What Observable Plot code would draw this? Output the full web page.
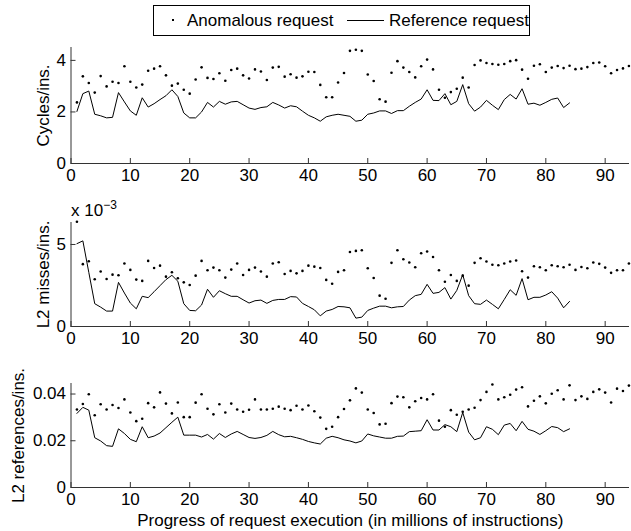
<!DOCTYPE html>
<html><head><meta charset="utf-8">
<script src="https://cdn.jsdelivr.net/npm/d3@7"></script>
<script src="https://cdn.jsdelivr.net/npm/@observablehq/plot@0.6"></script>
<style>
html,body{margin:0;padding:0;background:#fff;}
#fig{position:relative;width:631px;height:531px;overflow:hidden;font-family:"Liberation Sans",Arial,Helvetica,sans-serif;color:#000;}
.panel{position:absolute;left:0;}
#legend{position:absolute;left:153px;top:5px;width:377px;height:31px;border:1px solid #000;box-sizing:border-box;font-size:17px;background:#fff;}
#legend span{position:absolute;top:0;line-height:29px;white-space:nowrap;}
#exp{position:absolute;left:71px;top:202px;font-size:17px;line-height:17px;white-space:nowrap;z-index:5;}
</style></head>
<body><div id="fig">
<div id="legend">
  <div style="position:absolute;left:18px;top:13px;width:2px;height:2px;background:#000;"></div>
  <span style="left:33px;">Anomalous request</span>
  <div style="position:absolute;left:193px;top:14px;width:37px;height:1px;background:#000;"></div>
  <span style="left:235px;">Reference request</span>
</div>
<div id="exp">x 10<span style="position:relative;top:-7px;font-size:12px;">−3</span></div>
</div>
<script>
// x positions: millions of instructions (first sample at 1)
const anomStart = 1;
const refStart = 1;
const xTicks = [0, 10, 20, 30, 40, 50, 60, 70, 80, 90];
const xTickLabels = ["0", "10", "20", "30", "40", "50", "60", "70", "80", "90"];

// Panel 1: Cycles/ins.
const cyclesAnom = [2.37,3.38,3.12,2.75,3.39,2.99,3.17,3.12,3.77,3.17,
  2.95,3.06,3.60,3.68,3.77,3.42,3.02,3.10,2.86,2.71,
  3.26,3.73,3.32,3.28,3.50,3.21,3.63,3.68,3.42,3.30,
  3.65,3.57,3.24,3.72,3.75,3.37,3.46,3.33,3.38,3.56,
  3.55,3.05,2.57,2.57,3.14,3.51,4.37,4.41,4.37,3.45,
  3.20,2.49,2.40,3.52,3.97,3.72,3.55,3.34,3.77,4.03,
  3.65,2.86,2.55,2.77,2.90,3.33,2.95,3.82,4.00,3.90,
  3.86,3.83,3.86,3.97,4.01,3.64,3.29,3.79,3.85,3.55,
  3.72,3.78,3.70,3.79,3.66,3.68,3.74,3.90,3.92,3.77,
  3.50,3.63,3.69,3.78];
const cyclesRef = [2.02,2.71,2.81,1.91,1.85,1.77,1.79,2.75,2.39,2.04,
  1.87,2.55,2.19,2.32,2.48,2.63,2.86,2.60,1.96,1.77,
  1.77,2.00,2.37,2.19,2.41,2.30,2.39,2.41,2.28,2.15,
  2.10,2.17,2.20,2.37,2.27,2.15,2.24,2.20,2.03,1.87,
  1.77,1.64,1.81,1.87,1.91,1.87,1.83,1.64,1.68,1.91,
  1.96,2.04,2.04,1.94,2.05,2.05,2.22,2.37,2.50,2.86,
  2.45,2.44,2.71,2.28,2.41,3.06,2.32,2.03,2.19,2.45,
  2.26,2.09,2.48,2.68,2.50,2.90,2.30,2.34,2.26,2.37,
  2.49,2.54,2.17,2.35];
const cyclesTicks = [0, 2, 4];
const cyclesTickLabels = ["0", "2", "4"];

// Panel 2: L2 misses/ins. (in units of 10^-3)
const missAnom = [6.39,3.80,3.98,2.88,3.35,2.90,3.16,3.12,3.84,3.45,
  2.86,2.78,4.00,3.57,3.71,3.04,3.31,2.94,2.69,2.53,
  3.10,4.00,3.43,3.59,3.43,2.98,3.47,3.84,3.14,3.45,
  3.59,3.35,3.04,3.84,3.92,3.20,3.39,3.24,3.39,3.71,
  3.65,3.57,2.84,2.61,3.33,3.43,4.54,4.61,4.65,3.55,
  2.96,1.88,1.69,3.88,4.65,4.10,3.90,3.61,4.47,4.57,
  4.24,3.43,2.73,3.14,2.78,3.10,2.49,3.88,4.16,3.96,
  3.76,3.73,3.84,3.96,4.02,3.37,2.98,3.67,3.61,3.43,
  3.73,3.67,3.61,3.76,3.45,3.63,3.55,3.90,3.82,3.59,
  3.27,3.43,3.43,3.84];
const missRef = [5.05,5.22,3.30,1.39,1.18,0.94,0.94,2.69,2.04,1.43,
  1.08,1.84,1.76,2.12,2.49,2.86,3.12,2.76,1.39,0.98,
  0.96,1.31,2.27,1.78,2.18,2.00,1.84,1.84,1.63,1.43,
  1.57,1.61,1.41,1.59,1.65,1.65,1.82,1.80,1.41,1.22,
  1.02,0.65,0.94,1.04,1.22,1.20,1.14,0.51,0.57,0.98,
  1.12,1.24,1.24,1.14,1.20,1.22,1.61,1.88,1.96,2.57,
  2.02,2.08,2.37,1.67,2.20,3.16,1.88,1.39,1.35,1.61,
  1.35,1.08,1.65,2.24,1.90,2.92,1.63,1.78,1.78,1.92,
  2.12,1.73,1.14,1.53];
const missTicks = [0, 5];
const missTickLabels = ["0", "5"];

// Panel 3: L2 references/ins.
const refsAnom = [0.0334,0.0357,0.0399,0.0309,0.0356,0.0334,0.0353,0.0340,0.0377,0.0321,
  0.0284,0.0294,0.0361,0.0343,0.0407,0.0359,0.0317,0.0364,0.0301,0.0301,
  0.0363,0.0399,0.0337,0.0313,0.0356,0.0321,0.0359,0.0334,0.0324,0.0333,
  0.0377,0.0334,0.0334,0.0337,0.0346,0.0337,0.0331,0.0350,0.0334,0.0351,
  0.0326,0.0299,0.0251,0.0260,0.0301,0.0336,0.0373,0.0424,0.0406,0.0334,
  0.0319,0.0270,0.0273,0.0361,0.0389,0.0386,0.0343,0.0369,0.0383,0.0377,
  0.0399,0.0286,0.0260,0.0331,0.0311,0.0324,0.0334,0.0341,0.0374,0.0409,
  0.0441,0.0377,0.0386,0.0397,0.0419,0.0429,0.0347,0.0371,0.0390,0.0360,
  0.0401,0.0416,0.0377,0.0437,0.0374,0.0390,0.0379,0.0409,0.0420,0.0406,
  0.0364,0.0423,0.0413,0.0436];
const refsRef = [0.0317,0.0343,0.0331,0.0213,0.0199,0.0179,0.0176,0.0251,0.0231,0.0206,
  0.0196,0.0260,0.0213,0.0220,0.0233,0.0256,0.0279,0.0301,0.0224,0.0224,
  0.0224,0.0216,0.0227,0.0207,0.0231,0.0214,0.0229,0.0240,0.0227,0.0214,
  0.0210,0.0214,0.0223,0.0240,0.0226,0.0217,0.0219,0.0213,0.0206,0.0197,
  0.0191,0.0186,0.0211,0.0219,0.0213,0.0204,0.0199,0.0191,0.0199,0.0229,
  0.0221,0.0216,0.0211,0.0211,0.0219,0.0220,0.0239,0.0241,0.0243,0.0290,
  0.0246,0.0246,0.0269,0.0260,0.0239,0.0321,0.0237,0.0204,0.0213,0.0260,
  0.0249,0.0226,0.0267,0.0274,0.0243,0.0283,0.0249,0.0241,0.0227,0.0243,
  0.0261,0.0256,0.0239,0.0251];
const refsTicks = [0, 0.02, 0.04];
const refsTickLabels = ["0", "0.02", "0.04"];

const xLabel = "Progress of request execution (in millions of instructions)";
const fontFamily = '"Liberation Sans", Arial, Helvetica, sans-serif';
const axisColor = "#333";

function panel(o) {
  const A = o.anom.map((v, i) => ({x: i + anomStart, v}));
  const R = o.ref.map((v, i) => ({x: i + refStart, v}));
  const marks = [
    Plot.ruleX([0], {stroke: axisColor}),
    Plot.ruleY([0], {stroke: axisColor}),
    Plot.axisX(xTicks, {tickSize: -5, tickPadding: 10, stroke: axisColor, label: null,
      tickFormat: d => xTickLabels[xTicks.indexOf(d)]}),
    Plot.axisY(o.yTicks, {tickSize: -5, tickPadding: 10, stroke: axisColor, label: null,
      tickFormat: d => o.yTickLabels[o.yTicks.indexOf(d)]}),
    Plot.line(R, {x: "x", y: "v", stroke: "#000", strokeWidth: 1}),
    Plot.dot(A, {x: "x", y: "v", r: 1.3, fill: "#000", stroke: null}),
    Plot.text([o.yLabel], {frameAnchor: "left", rotate: -90, dx: o.yLabelDx, textAnchor: "middle",
      lineAnchor: "middle", text: d => d, fill: "#000"})
  ];
  if (o.xLabel) marks.push(Plot.text([o.xLabel], {frameAnchor: "bottom", dy: 33, lineAnchor: "middle",
    textAnchor: "middle", text: d => d, fill: "#000"}));
  const chart = Plot.plot({
    width: 631,
    height: o.marginTop + o.plotHeight + o.marginBottom,
    marginLeft: 70.5, marginRight: 2, marginTop: o.marginTop, marginBottom: o.marginBottom,
    style: {fontFamily, fontSize: "17px", background: "transparent", overflow: "visible", color: "#000"},
    x: {domain: [0, 94.1], label: null},
    y: {domain: o.yDomain, label: null},
    marks
  });
  chart.classList.add("panel");
  chart.style.position = "absolute";
  chart.style.left = "0px";
  chart.style.top = o.top + "px";
  document.getElementById("fig").appendChild(chart);
}

panel({anom: cyclesAnom, ref: cyclesRef, yDomain: [0, 4.5], yTicks: cyclesTicks, yTickLabels: cyclesTickLabels,
  yLabel: "Cycles/ins.", yLabelDx: -27.5, top: 40, marginTop: 7, plotHeight: 116, marginBottom: 30});
panel({anom: missAnom, ref: missRef, yDomain: [0, 6.34], yTicks: missTicks, yTickLabels: missTickLabels,
  yLabel: "L2 misses/ins.", yLabelDx: -27.5, top: 190, marginTop: 32, plotHeight: 104, marginBottom: 30});
panel({anom: refsAnom, ref: refsRef, yDomain: [0, 0.0445], yTicks: refsTicks, yTickLabels: refsTickLabels,
  yLabel: "L2 references/ins.", yLabelDx: -52.5, top: 360, marginTop: 23, plotHeight: 104, marginBottom: 44, xLabel});
</script>
</body></html>
